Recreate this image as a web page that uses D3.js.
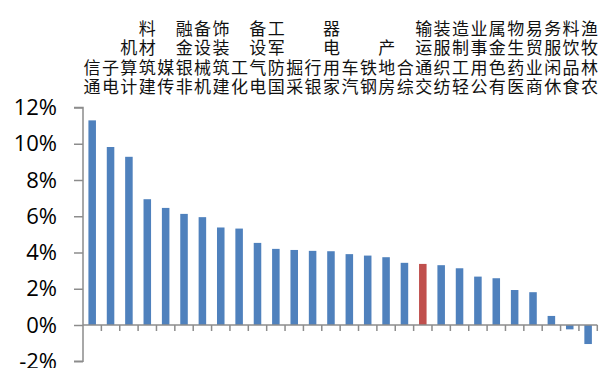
<!DOCTYPE html>
<html>
<head>
<meta charset="utf-8">
<script src="https://cdn.jsdelivr.net/npm/d3@7/dist/d3.min.js"></script>
<style>
  html, body { margin: 0; padding: 0; background: #fff; }
  svg { display: block; }
</style>
</head>
<body>
<script>
// Industry returns, sorted high to low
const industries = ["通信","电子","计算机","建筑材料","传媒","非银金融","机械设备","建筑装饰","化工","电气设备","国防军工","采掘","银行","家用电器","汽车","钢铁","房地产","综合","交通运输","纺织服装","轻工制造","公用事业","有色金属","医药生物","商业贸易","休闲服务","食品饮料","农林牧渔"];
const returns = [11.29, 9.82, 9.28, 6.94, 6.46, 6.13, 5.95, 5.38, 5.32, 4.53, 4.20, 4.14, 4.09, 4.07, 3.91, 3.83, 3.74, 3.43, 3.37, 3.30, 3.13, 2.67, 2.58, 1.93, 1.81, 0.50, -0.24, -1.05];
const highlighted = ["交通运输"];
const yTicks = [-2, 0, 2, 4, 6, 8, 10, 12];

const W = 601, H = 368;
const svg = d3.select("body").append("svg").attr("width", W).attr("height", H);

const x = d3.scaleBand().domain(industries).range([83, 597.3]).paddingInner(0.59).paddingOuter(0.295);
const y = d3.scaleLinear().domain([-2, 12]).range([361.25, 107.5]);
const labelX = d3.scalePoint().domain(industries).range([92, 589.5]);

const axisColor = "#8c8c8c";

// bars
svg.append("g").selectAll("rect").data(industries).join("rect")
  .attr("x", d => x(d))
  .attr("width", x.bandwidth())
  .attr("y", (d, i) => y(Math.max(0, returns[i])))
  .attr("height", (d, i) => Math.abs(y(returns[i]) - y(0)))
  .attr("fill", d => highlighted.includes(d) ? "#C0504D" : "#4F81BD");

// y axis
const yAxis = d3.axisLeft(y).tickValues(yTicks).tickSize(9).tickPadding(17)
  .tickFormat(d => d + "%");
const gy = svg.append("g").attr("transform", "translate(83,0)").call(yAxis);
gy.select(".domain").attr("stroke", axisColor).attr("stroke-width", 1.5).attr("d", `M-9,${y(12)}H0V${y(-2)}H-9`);
gy.selectAll(".tick line").attr("stroke", axisColor).attr("stroke-width", 1.5);
gy.selectAll(".tick text")
  .attr("fill", "#000")
  .style("font-family", "'Open Sans', sans-serif")
  .style("font-size", "22px");

// category axis along the zero line
const step = x.step();
const boundaries = d3.range(1, industries.length + 1).map(i => 83 + i * step);
svg.append("line")
  .attr("x1", 83).attr("x2", boundaries[boundaries.length - 1])
  .attr("y1", y(0)).attr("y2", y(0))
  .attr("stroke", axisColor).attr("stroke-width", 1.5);
svg.append("g").selectAll("line").data(boundaries).join("line")
  .attr("x1", d => d).attr("x2", d => d)
  .attr("y1", y(0)).attr("y2", y(0) + 6)
  .attr("stroke", axisColor).attr("stroke-width", 1.5);

// vertical category labels, read bottom to top, bottom-aligned above the plot
const labelBottom = 98;
svg.append("g")
  .style("font-family", "'Noto Sans CJK SC', sans-serif")
  .style("font-size", "17px")
  .attr("fill", "#111")
  .selectAll("text").data(industries).join("text")
  .attr("x", d => labelX(d))
  .attr("y", labelBottom)
  .style("writing-mode", "vertical-rl")
  .style("text-orientation", "upright")
  .style("letter-spacing", "2.5px")
  .attr("text-anchor", "end")
  .text(d => Array.from(d).reverse().join(""));
</script>
</body>
</html>
